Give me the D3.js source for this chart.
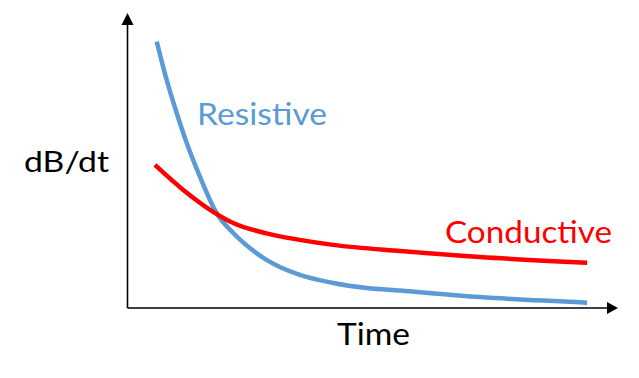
<!DOCTYPE html>
<html><head><meta charset="utf-8">
<script src="https://cdn.jsdelivr.net/npm/d3@7"></script>
<style>body{margin:0;background:#fff}svg{display:block}</style>
</head><body>
<script>
// Data (arbitrary units: time 0-100, dB/dt 0-100)
const resistiveTime = [5.97, 8.0, 10.05, 12.1, 14.8, 18.2, 21.6, 25.0, 28.4, 35.2, 42.0, 48.9, 55.7, 72.0, 93.9];
const resistiveValue = [90.3, 77.3, 66.1, 55.9, 44.5, 32.2, 25.4, 20.3, 16.3, 11.2, 8.5, 6.8, 5.9, 3.7, 1.8];
const conductiveTime = [5.6, 11.4, 17.5, 21.6, 28.4, 35.2, 42.0, 55.7, 72.0, 93.9];
const conductiveValue = [48.5, 40.0, 32.6, 28.8, 25.3, 23.1, 21.4, 19.3, 17.3, 15.3];
const seriesNames = ["Resistive", "Conductive"];
const axisLabels = {x: "Time", y: "dB/dt"};

const W = 639, H = 378;
const svg = d3.select("body").append("svg").attr("width", W).attr("height", H);

const x = d3.scaleLinear().domain([0, 100]).range([127.5, 617]);
const y = d3.scaleLinear().domain([0, 100]).range([308, 13]);

const font = "Lato, 'Open Sans', sans-serif";

// axes
const ax = svg.append("g");
ax.append("line").attr("x1", x(0)).attr("x2", x(98)).attr("y1", y(0)).attr("y2", y(0))
  .attr("stroke", "#000").attr("stroke-width", 1.6);
ax.append("line").attr("x1", x(0)).attr("x2", x(0)).attr("y1", y(0)).attr("y2", y(97))
  .attr("stroke", "#000").attr("stroke-width", 1.6);
// arrowheads
ax.append("path").attr("d", `M${x(100)+1},${y(0)} L${x(100)-10},${y(0)-6} L${x(100)-10},${y(0)+6} Z`).attr("fill", "#000");
ax.append("path").attr("d", `M${x(0)},${y(100)} L${x(0)-6},${y(100)+12} L${x(0)+6},${y(100)+12} Z`).attr("fill", "#000");

const line = d3.line().x(d => x(d[0])).y(d => y(d[1])).curve(d3.curveMonotoneX);

const blue = "#5B9BD5", red = "#FF0000";
svg.append("path").datum(d3.zip(resistiveTime, resistiveValue)).attr("d", line)
  .attr("fill", "none").attr("stroke", blue).attr("stroke-width", 4.5);
svg.append("path").datum(d3.zip(conductiveTime, conductiveValue)).attr("d", line)
  .attr("fill", "none").attr("stroke", red).attr("stroke-width", 4.5);

// labels
function label(t, px, py, w, color, size) {
  svg.append("text").attr("x", px).attr("y", py).text(t)
    .attr("fill", color).attr("font-family", font).attr("font-size", size)
    .attr("textLength", w).attr("lengthAdjust", "spacingAndGlyphs");
}
label(seriesNames[0], 197, 125, 130, blue, 31);
label(seriesNames[1], 445, 243, 167, red, 31);
label(axisLabels.y, 24, 172, 85, "#000", 29);
label(axisLabels.x, 337, 345, 73, "#000", 31);
</script>
</body></html>
